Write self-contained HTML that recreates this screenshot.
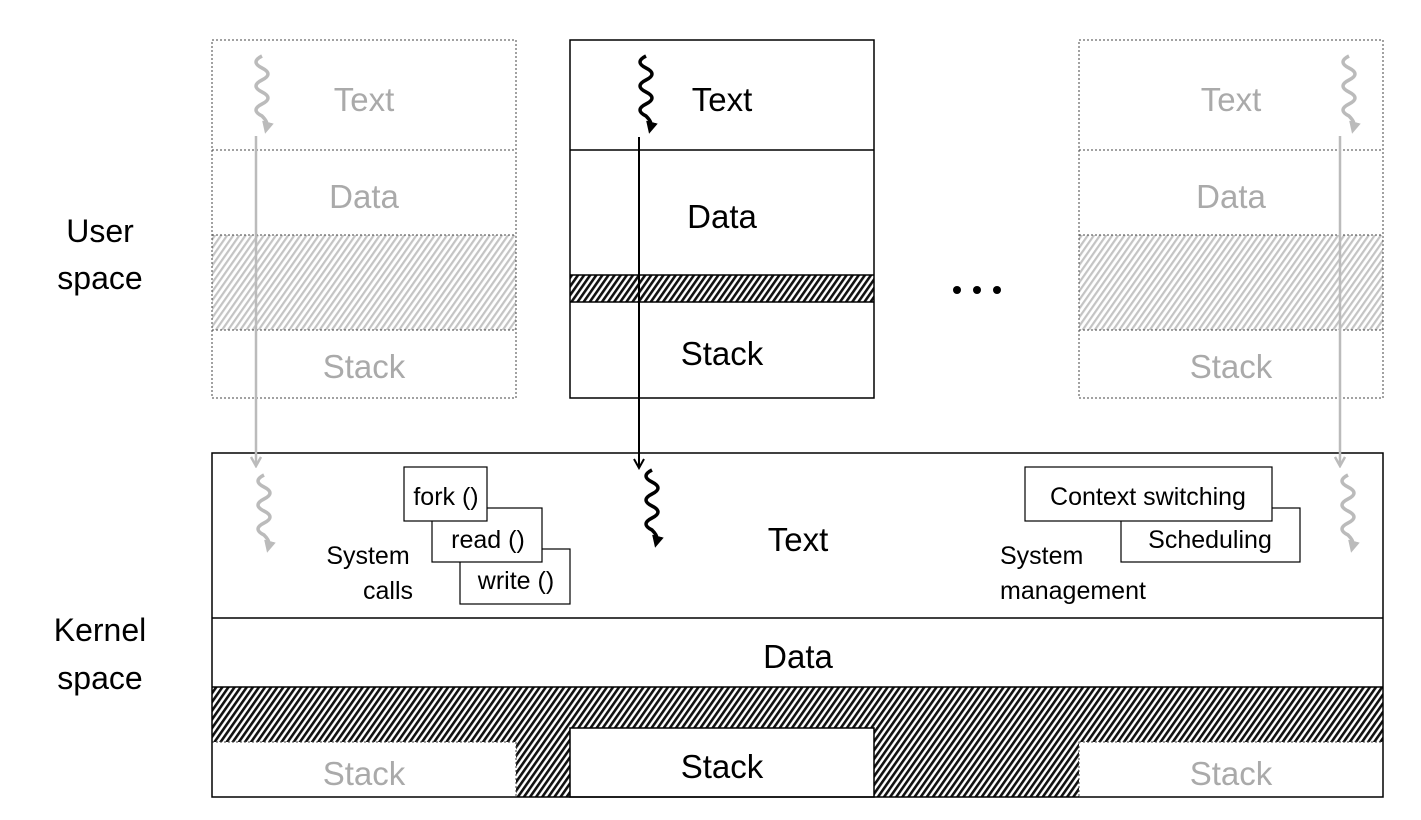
<!DOCTYPE html>
<html><head><meta charset="utf-8"><style>
body{margin:0;background:#fff}
svg{display:block}
text{font-family:"Liberation Sans",sans-serif}
</style></head><body>
<svg width="1421" height="820" viewBox="0 0 1421 820" xmlns="http://www.w3.org/2000/svg">
<defs>
<pattern id="dk" width="5" height="5" patternUnits="userSpaceOnUse" patternTransform="rotate(35)">
<rect width="5" height="5" fill="#fff"/><rect width="2.6" height="5" fill="#111"/>
</pattern>
<pattern id="lt" width="5" height="5" patternUnits="userSpaceOnUse" patternTransform="rotate(35)">
<rect width="5" height="5" fill="#fff"/><rect width="2.2" height="5" fill="#c4c4c4"/>
</pattern>
<marker id="ab" markerWidth="12" markerHeight="12" refX="10" refY="6" orient="auto" markerUnits="userSpaceOnUse"><path d="M1,1 L10,6 L1,11" fill="none" stroke="#000" stroke-width="2"/></marker>
<marker id="ag" markerWidth="12" markerHeight="12" refX="10" refY="6" orient="auto" markerUnits="userSpaceOnUse"><path d="M1,1 L10,6 L1,11" fill="none" stroke="#bbb" stroke-width="2.5"/></marker>
<marker id="tb" markerWidth="14" markerHeight="14" refX="4" refY="6" orient="auto" markerUnits="userSpaceOnUse"><path d="M0,0 L12,6 L0,12 Z" fill="#000"/></marker>
<marker id="tg" markerWidth="14" markerHeight="14" refX="4" refY="6" orient="auto" markerUnits="userSpaceOnUse"><path d="M0,0 L12,6 L0,12 Z" fill="#bbb"/></marker>
</defs>

<rect x="212" y="235" width="304" height="95" fill="url(#lt)"/>
<rect x="212" y="40" width="304" height="358" fill="none" stroke="#444" stroke-width="1" stroke-dasharray="2,2"/>
<line x1="212" y1="150" x2="516" y2="150" stroke="#444" stroke-dasharray="2,2"/>
<line x1="212" y1="235" x2="516" y2="235" stroke="#444" stroke-dasharray="2,2"/>
<line x1="212" y1="330" x2="516" y2="330" stroke="#444" stroke-dasharray="2,2"/>
<g fill="#aaa" font-size="33" text-anchor="middle">
<text x="364" y="111">Text</text><text x="364" y="208">Data</text><text x="364" y="378">Stack</text>
</g>

<rect x="1079" y="235" width="304" height="95" fill="url(#lt)"/>
<rect x="1079" y="40" width="304" height="358" fill="none" stroke="#444" stroke-width="1" stroke-dasharray="2,2"/>
<line x1="1079" y1="150" x2="1383" y2="150" stroke="#444" stroke-dasharray="2,2"/>
<line x1="1079" y1="235" x2="1383" y2="235" stroke="#444" stroke-dasharray="2,2"/>
<line x1="1079" y1="330" x2="1383" y2="330" stroke="#444" stroke-dasharray="2,2"/>
<g fill="#aaa" font-size="33" text-anchor="middle">
<text x="1231" y="111">Text</text><text x="1231" y="208">Data</text><text x="1231" y="378">Stack</text>
</g>

<rect x="570" y="275" width="304" height="27" fill="url(#dk)"/>
<rect x="570" y="40" width="304" height="358" fill="none" stroke="#000" stroke-width="1.5"/>
<line x1="570" y1="150" x2="874" y2="150" stroke="#000" stroke-width="1.5"/>
<line x1="570" y1="275" x2="874" y2="275" stroke="#000" stroke-width="1.5"/>
<line x1="570" y1="302" x2="874" y2="302" stroke="#000" stroke-width="1.5"/>
<g fill="#000" font-size="33" text-anchor="middle">
<text x="722" y="111">Text</text><text x="722" y="228">Data</text><text x="722" y="365">Stack</text>
</g>

<g fill="#000"><circle cx="957" cy="290" r="4"/><circle cx="977" cy="290" r="4"/><circle cx="997" cy="290" r="4"/></g>

<rect x="212" y="687" width="1171" height="110" fill="url(#dk)"/>
<rect x="212" y="742" width="304" height="55" fill="#fff" stroke="#444" stroke-dasharray="2,2"/>
<rect x="1079" y="742" width="304" height="55" fill="#fff" stroke="#444" stroke-dasharray="2,2"/>
<rect x="570" y="728" width="304" height="69" fill="#fff" stroke="#000" stroke-width="1.5"/>
<rect x="212" y="453" width="1171" height="344" fill="none" stroke="#000" stroke-width="1.5"/>
<line x1="212" y1="618" x2="1383" y2="618" stroke="#000" stroke-width="1.5"/>
<line x1="212" y1="687" x2="1383" y2="687" stroke="#000" stroke-width="1.5"/>
<g font-size="33" text-anchor="middle">
<text x="798" y="551">Text</text><text x="798" y="668">Data</text>
<text x="722" y="778">Stack</text>
<text x="364" y="785" fill="#aaa">Stack</text><text x="1231" y="785" fill="#aaa">Stack</text>
</g>

<g font-size="25" stroke-width="1.2">
<rect x="460" y="549" width="110" height="55" fill="#fff" stroke="#000"/>
<rect x="432" y="508" width="110" height="54" fill="#fff" stroke="#000"/>
<rect x="404" y="467" width="83" height="54" fill="#fff" stroke="#000"/>
<text x="446" y="505" text-anchor="middle">fork ()</text>
<text x="488" y="548" text-anchor="middle">read ()</text>
<text x="516" y="589" text-anchor="middle">write ()</text>
<text x="368" y="564" text-anchor="middle">System</text>
<text x="388" y="599" text-anchor="middle">calls</text>
<rect x="1121" y="508" width="179" height="54" fill="#fff" stroke="#000"/>
<rect x="1025" y="467" width="247" height="54" fill="#fff" stroke="#000"/>
<text x="1148" y="505" text-anchor="middle">Context switching</text>
<text x="1210" y="548" text-anchor="middle">Scheduling</text>
<text x="1000" y="564">System</text>
<text x="1000" y="599">management</text>
</g>

<g font-size="32" text-anchor="middle">
<text x="100" y="242">User</text><text x="100" y="289">space</text>
<text x="100" y="641">Kernel</text><text x="100" y="689">space</text>
</g>

<line x1="256" y1="136" x2="256" y2="466" stroke="#bbb" stroke-width="2.5" marker-end="url(#ag)"/>
<line x1="1340" y1="136" x2="1340" y2="466" stroke="#bbb" stroke-width="2.5" marker-end="url(#ag)"/>
<line x1="639" y1="137" x2="639" y2="468" stroke="#000" stroke-width="2" marker-end="url(#ab)"/>

<g fill="none" stroke-width="3.5">
<path d="M262,56 q-12,6 0,12 q12,6 0,12 q-12,6 0,12 q12,6 0,12 q-12,6 0,12 q6,6 5,10" stroke="#bbb" marker-end="url(#tg)"/>
<path d="M1349,56 q-12,6 0,12 q12,6 0,12 q-12,6 0,12 q12,6 0,12 q-12,6 0,12 q6,6 5,10" stroke="#bbb" marker-end="url(#tg)"/>
<path d="M264,475 q-12,6 0,12 q12,6 0,12 q-12,6 0,12 q12,6 0,12 q-12,6 0,12 q6,6 5,10" stroke="#bbb" marker-end="url(#tg)"/>
<path d="M1348,475 q-12,6 0,12 q12,6 0,12 q-12,6 0,12 q12,6 0,12 q-12,6 0,12 q6,6 5,10" stroke="#bbb" marker-end="url(#tg)"/>
<path d="M646,56 q-12,6 0,12 q12,6 0,12 q-12,6 0,12 q12,6 0,12 q-12,6 0,12 q6,6 5,10" stroke="#000" marker-end="url(#tb)"/>
<path d="M652,470 q-12,6 0,12 q12,6 0,12 q-12,6 0,12 q12,6 0,12 q-12,6 0,12 q6,6 5,10" stroke="#000" marker-end="url(#tb)"/>
</g>
</svg>
</body></html>
